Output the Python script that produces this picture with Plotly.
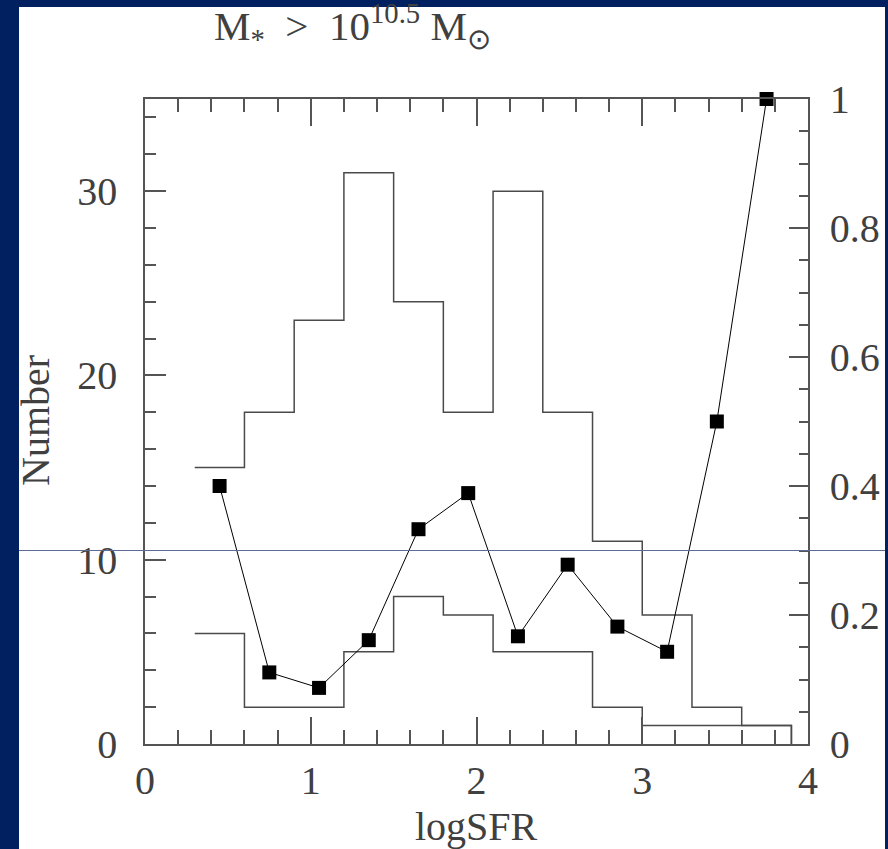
import plotly.graph_objects as go

# ---- data ----
bin_edges = [0.3, 0.6, 0.9, 1.2, 1.5, 1.8, 2.1, 2.4, 2.7, 3.0, 3.3, 3.6, 3.9]
counts_all = [15, 18, 23, 31, 24, 18, 30, 18, 11, 7, 2, 1]
counts_sub = [6, 2, 2, 5, 8, 7, 5, 5, 2, 1, 1, 1]
bin_centers = [0.45, 0.75, 1.05, 1.35, 1.65, 1.95, 2.25, 2.55, 2.85, 3.15, 3.45, 3.75]
fraction = [0.400, 0.111, 0.087, 0.161, 0.333, 0.389, 0.167, 0.278, 0.182, 0.143, 0.500, 1.000]
x_ticks = [0, 1, 2, 3, 4]
y_ticks = [0, 10, 20, 30]
frac_ticks = [0, 0.2, 0.4, 0.6, 0.8, 1]
frac_labels = ["0", "0.2", "0.4", "0.6", "0.8", "1"]
frac_ref = 0.3

W, H = 888, 849
L, R, T, B = 145, 80, 99, 105
pw, ph = W - L - R, H - T - B

def px_x(p):
    return (p - L) / pw

def px_y(p):
    return (H - B - p) / ph

FONT = "Liberation Serif"
TXT = "#404040"
AX = "#555555"
NAVY = "#00205f"

fig = go.Figure()

fig.add_trace(go.Scatter(x=bin_edges, y=counts_all + [0], mode="lines", line_shape="hv",
                         line=dict(color="#4a4a4a", width=1.5), showlegend=False, hoverinfo="skip"))
fig.add_trace(go.Scatter(x=bin_edges, y=counts_sub + [0], mode="lines", line_shape="hv",
                         line=dict(color="#4a4a4a", width=1.5), showlegend=False, hoverinfo="skip"))
fig.add_trace(go.Scatter(x=bin_centers, y=fraction, mode="lines+markers", yaxis="y2",
                         line=dict(color="black", width=1),
                         marker=dict(symbol="square", size=14, color="black"),
                         showlegend=False, cliponaxis=False))
# dummy trace for top axis
fig.add_trace(go.Scatter(x=[None], y=[None], xaxis="x2", showlegend=False, hoverinfo="skip"))

tickfont = dict(family=FONT, size=40, color=TXT)

common = dict(showline=True, linecolor=AX, linewidth=1.5, showgrid=False, zeroline=False,
              ticks="inside", tickwidth=1.5, tickcolor=AX, automargin=False)

fig.update_layout(
    template="none",
    width=W, height=H, autosize=False,
    margin=dict(l=L, r=R, t=T, b=B, pad=0),
    paper_bgcolor=NAVY, plot_bgcolor="rgba(0,0,0,0)",
    xaxis=dict(range=[0, 4], tickvals=x_ticks, ticklen=27, tickfont=tickfont,
               ticklabelstandoff=0,
               minor=dict(dtick=0.2, tick0=0, ticks="inside", ticklen=14, tickwidth=1.5,
                          tickcolor=AX, showgrid=False), **common),
    xaxis2=dict(range=[0, 4], overlaying="x", side="top", tickvals=x_ticks, ticklen=27,
                showticklabels=False,
                minor=dict(dtick=0.2, tick0=0, ticks="inside", ticklen=13, tickwidth=1.5,
                           tickcolor=AX, showgrid=False), **common),
    yaxis=dict(range=[0, 35], tickvals=y_ticks, ticklen=21, tickfont=tickfont,
               ticklabelstandoff=18,
               minor=dict(dtick=2, tick0=0, ticks="inside", ticklen=11, tickwidth=1.5,
                          tickcolor=AX, showgrid=False), **common),
    yaxis2=dict(range=[0, 1], overlaying="y", side="right", tickvals=frac_ticks,
                ticktext=frac_labels, ticklen=19, tickfont=tickfont, ticklabelstandoff=12,
                minor=dict(dtick=0.05, tick0=0, ticks="inside", ticklen=9, tickwidth=1.5,
                           tickcolor=AX, showgrid=False), **common),
    shapes=[
        dict(type="rect", xref="paper", yref="paper", x0=px_x(19), x1=px_x(885),
             y0=px_y(H + 5), y1=px_y(7), fillcolor="white", line=dict(width=0), layer="below"),
        dict(type="line", xref="paper", yref="y2", x0=px_x(19), x1=px_x(885),
             y0=frac_ref, y1=frac_ref, line=dict(color="#5b6b95", width=1), layer="above"),
        # navy frame on the right edge clips the right-hand tick labels as in the reference
        dict(type="rect", xref="paper", yref="paper", x0=px_x(885), x1=px_x(W + 10),
             y0=px_y(H + 10), y1=px_y(-10), fillcolor=NAVY, line=dict(width=0), layer="above"),
    ],
    annotations=[
        dict(text="M<sub>*</sub>\u00a0\u00a0&gt;\u00a0\u00a010<sup>10.5</sup>\u00a0M<sub>⊙</sub>",
             xref="paper", yref="paper",
             x=px_x(212), y=px_y(26), xanchor="left", yanchor="middle", showarrow=False,
             font=dict(family=FONT, size=41, color=TXT)),
        dict(text="Number", xref="paper", yref="paper", x=px_x(35), y=px_y(421),
             xanchor="center", yanchor="middle", textangle=-90, showarrow=False,
             font=dict(family=FONT, size=40, color=TXT)),
        dict(text="logSFR", xref="paper", yref="paper", x=px_x(476), y=px_y(826),
             xanchor="center", yanchor="middle", showarrow=False,
             font=dict(family=FONT, size=40, color=TXT)),
    ],
)

fig.write_html("out.html")
